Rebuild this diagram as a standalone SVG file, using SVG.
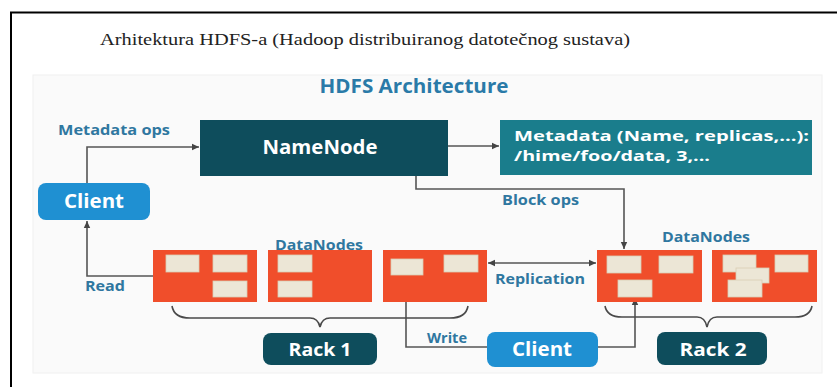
<svg xmlns="http://www.w3.org/2000/svg" width="837" height="387" viewBox="0 0 837 387">
<style>
.lbl{font-family:"Open Sans","Liberation Sans",sans-serif;font-weight:700;fill:#2f77a0;font-size:14px}
.wt{font-family:"Open Sans","Liberation Sans",sans-serif;font-weight:700;fill:#ffffff}
.dn{fill:#f04e2b}
.blk{fill:#ece6d6;stroke:#d9cdb4;stroke-width:0.8}
.ln{fill:none;stroke:#555555;stroke-width:1.6}
.br{fill:none;stroke:#4a4a4a;stroke-width:1.6}
</style>
<defs>
<marker id="ah" markerWidth="8" markerHeight="8" refX="7" refY="4" orient="auto" markerUnits="userSpaceOnUse">
<path d="M0,0.8 L7,4 L0,7.2 Z" fill="#444"/>
</marker>
<marker id="ahs" markerWidth="8" markerHeight="8" refX="1" refY="4" orient="auto" markerUnits="userSpaceOnUse">
<path d="M8,0.8 L1,4 L8,7.2 Z" fill="#444"/>
</marker>
</defs>
<rect width="837" height="387" fill="#ffffff"/>
<line x1="10" y1="12.5" x2="837" y2="12.5" stroke="#000" stroke-width="2"/>
<line x1="11" y1="12" x2="11" y2="387" stroke="#000" stroke-width="2"/>
<rect x="33" y="75" width="789" height="298" fill="#fafafa" stroke="#f0f0f0" stroke-width="1"/>
<text x="100" y="45" font-family="Liberation Serif,serif" font-size="17" fill="#222" textLength="530" lengthAdjust="spacingAndGlyphs">Arhitektura HDFS-a (Hadoop distribuiranog datotečnog sustava)</text>
<text x="414" y="93" text-anchor="middle" font-family="Open Sans,Liberation Sans,sans-serif" font-weight="700" font-size="19" fill="#2a7aa8" textLength="189" lengthAdjust="spacingAndGlyphs">HDFS Architecture</text>

<g id="connectors">
<polyline class="ln" points="87,183 87,147 199,147" marker-end="url(#ah)"/>
<line class="ln" x1="448" y1="146" x2="499" y2="146" marker-end="url(#ah)"/>
<polyline class="ln" points="416,176 416,189 624,189 624,249" marker-end="url(#ah)"/>
<polyline class="ln" points="153,276 87,276 87,221" marker-end="url(#ah)"/>
<line class="ln" x1="488" y1="263" x2="596" y2="263" marker-start="url(#ahs)" marker-end="url(#ah)"/>
<polyline class="ln" points="487,347 406,347 406,276" marker-end="url(#ah)"/>
<polyline class="ln" points="598,347 635,347 635,298" marker-end="url(#ah)"/>
<path class="br" d="M172,306 Q174,318 190,318 L310,318 Q318,318 320,327 Q322,318 330,318 L450,318 Q466,318 468,306"/>
<path class="br" d="M605,306 Q607,317 622,317 L697,317 Q705,317 707,327 Q709,317 717,317 L795,317 Q810,317 812,306"/>
<text class="lbl" x="58" y="135" textLength="112" lengthAdjust="spacingAndGlyphs">Metadata ops</text>
<text class="lbl" x="85" y="291" textLength="40" lengthAdjust="spacingAndGlyphs">Read</text>
<text class="lbl" x="502" y="205" textLength="77" lengthAdjust="spacingAndGlyphs">Block ops</text>
<text class="lbl" x="495" y="284" textLength="90" lengthAdjust="spacingAndGlyphs">Replication</text>
<text class="lbl" x="427" y="343" textLength="40" lengthAdjust="spacingAndGlyphs">Write</text>
</g>

<g id="namenode">
<rect x="200" y="120" width="248" height="56" fill="#0e4d5c"/>
<text class="wt" x="320" y="154" text-anchor="middle" font-size="19" textLength="115" lengthAdjust="spacingAndGlyphs">NameNode</text>
</g>

<g id="metadata">
<rect x="500" y="120" width="312" height="55" fill="#1a7d8c"/>
<text class="wt" x="514" y="141" font-size="14.5" textLength="295" lengthAdjust="spacingAndGlyphs">Metadata (Name, replicas,...):</text>
<text class="wt" x="514" y="161" font-size="14.5" textLength="196" lengthAdjust="spacingAndGlyphs">/hime/foo/data, 3,...</text>
</g>

<g id="client-left">
<rect x="38" y="183" width="112" height="37" rx="8" fill="#1f90d2"/>
<text class="wt" x="94" y="208" text-anchor="middle" font-size="19" textLength="60" lengthAdjust="spacingAndGlyphs">Client</text>
</g>

<g id="datanodes-rack1">
<text class="lbl" x="275" y="250" textLength="88" lengthAdjust="spacingAndGlyphs">DataNodes</text>
<rect class="dn" x="153" y="250" width="104" height="52"/>
<rect class="blk" x="166" y="255" width="33" height="17"/>
<rect class="blk" x="213" y="255" width="34" height="17"/>
<rect class="blk" x="213" y="281" width="34" height="16"/>
<rect class="dn" x="268" y="250" width="104" height="52"/>
<rect class="blk" x="278" y="255" width="34" height="17"/>
<rect class="blk" x="278" y="281" width="34" height="16"/>
<rect class="dn" x="383" y="250" width="104" height="52"/>
<rect class="blk" x="391" y="259" width="32" height="16"/>
<rect class="blk" x="444" y="255" width="34" height="17"/>
</g>

<g id="datanodes-rack2">
<text class="lbl" x="662" y="242" textLength="88" lengthAdjust="spacingAndGlyphs">DataNodes</text>
<rect class="dn" x="597" y="250" width="105" height="52"/>
<rect class="blk" x="607" y="256" width="34" height="17"/>
<rect class="blk" x="659" y="256" width="34" height="17"/>
<rect class="blk" x="618" y="280" width="34" height="17"/>
<rect class="dn" x="712" y="250" width="105" height="52"/>
<rect class="blk" x="723" y="255" width="33" height="17"/>
<rect class="blk" x="736" y="268" width="33" height="15"/>
<rect class="blk" x="728" y="280" width="34" height="17"/>
<rect class="blk" x="775" y="255" width="33" height="17"/>
</g>

<g id="rack1">
<rect x="263" y="333" width="114" height="32" rx="8" fill="#0e4d5c"/>
<text class="wt" x="320" y="356" text-anchor="middle" font-size="18" textLength="63" lengthAdjust="spacingAndGlyphs">Rack 1</text>
</g>

<g id="rack2">
<rect x="657" y="332" width="110" height="33" rx="8" fill="#0e4d5c"/>
<text class="wt" x="713" y="356" text-anchor="middle" font-size="18" textLength="67" lengthAdjust="spacingAndGlyphs">Rack 2</text>
</g>

<g id="client-bottom">
<rect x="487" y="332" width="111" height="35" rx="8" fill="#1f90d2"/>
<text class="wt" x="542" y="356" text-anchor="middle" font-size="19" textLength="60" lengthAdjust="spacingAndGlyphs">Client</text>
</g>
</svg>
